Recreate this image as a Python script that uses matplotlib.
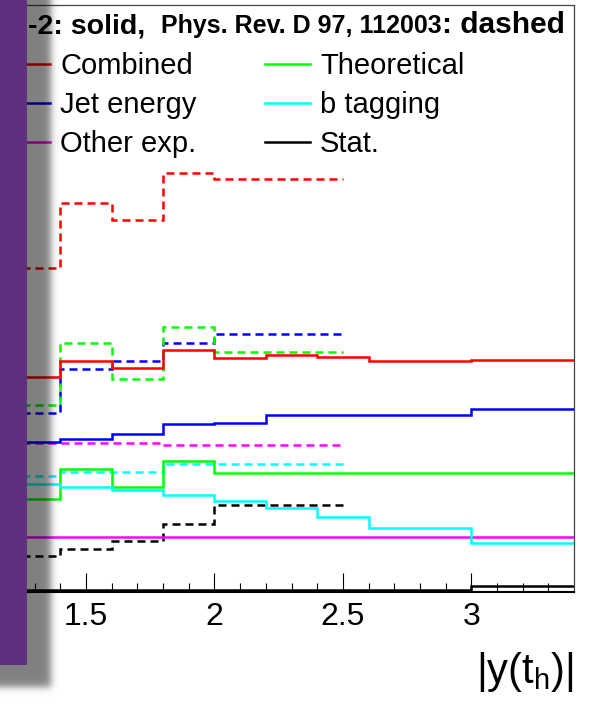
import numpy as np
import matplotlib.pyplot as plt
from matplotlib.lines import Line2D

plt.rcParams['font.family'] = ['Liberation Sans', 'DejaVu Sans']
plt.rcParams['mathtext.fontset'] = 'custom'
plt.rcParams['mathtext.rm'] = 'Liberation Sans'
plt.rcParams['mathtext.it'] = 'Liberation Sans:italic'

# bin edges in |y(t_h)|
edges_new = [1.2, 1.4, 1.6, 1.8, 2.0, 2.2, 2.4, 2.6, 3.0, 3.4]
edges_old = [1.2, 1.4, 1.6, 1.8, 2.0, 2.5]

# relative uncertainties (%), new result (solid)
comb_new = [5.51, 5.92, 5.74, 6.19, 5.98, 6.06, 6.01, 5.91, 5.94]
jet_new = [3.84, 3.92, 4.04, 4.30, 4.32, 4.53, 4.54, 4.54, 4.67]
other_new = [1.41, 1.41, 1.41, 1.41, 1.41, 1.41, 1.41, 1.41, 1.41]
theo_new = [2.38, 3.15, 2.69, 3.36, 3.05, 3.05, 3.05, 3.05, 3.05]
btag_new = [2.77, 2.70, 2.61, 2.49, 2.33, 2.15, 1.92, 1.64, 1.26]
stat_new = [0.07, 0.07, 0.07, 0.07, 0.07, 0.07, 0.07, 0.05, 0.16]

# Phys. Rev. D 97, 112003 (dashed)
comb_old = [8.29, 9.94, 9.52, 10.72, 10.56]
jet_old = [4.58, 5.70, 5.91, 6.37, 6.60]
other_old = [3.81, 3.81, 3.81, 3.76, 3.76]
theo_old = [4.78, 6.37, 5.45, 6.78, 6.14]
btag_old = [2.97, 3.07, 3.07, 3.28, 3.28]
stat_old = [0.93, 1.11, 1.31, 1.75, 2.23]

labels = ['Combined', 'Jet energy', 'Other exp.', 'Theoretical', 'b tagging', 'Stat.']
colors = ['#ff0000', '#0000ff', '#ff00ff', '#00ff00', '#00ffff', '#000000']

W, H = 600, 708
fig = plt.figure(figsize=(6, 7.08), dpi=100)

def fx(px):
    return px / W

def fy(py):
    return 1 - py / H

ax = fig.add_axes([fx(9), fy(592.3), fx(574) - fx(9), (592.3 - 5) / H])

new = [comb_new, jet_new, other_new, theo_new, btag_new, stat_new]
old = [comb_old, jet_old, other_old, theo_old, btag_old, stat_old]
dash = (0, (3.2, 2.0))
for vals, c in zip(old, colors):
    ax.stairs(vals, edges_old, baseline=None, color=c, lw=1.8, linestyle=dash)
for vals, c in zip(new, colors):
    ax.stairs(vals, edges_new, baseline=None, color=c, lw=1.8)

ax.set_xlim(1.2, 3.4)
ax.set_ylim(0, 15)
ax.set_xticks([1.5, 2.0, 2.5, 3.0])
ax.set_xticklabels(['1.5', '2', '2.5', '3'])
ax.set_xticks(np.arange(1.3, 3.4, 0.1), minor=True)
ax.set_yticks([])
ax.tick_params(axis='x', which='major', direction='in', length=13.5, width=0.8, labelsize=23, pad=7)
ax.tick_params(axis='x', which='minor', direction='in', length=6.5, width=0.8)
for s in ['top', 'right', 'left']:
    ax.spines[s].set_linewidth(0.9)
    ax.spines[s].set_color('#444444')
ax.spines['bottom'].set_linewidth(1.5)

ax.set_xlabel(r'|y(t$_{\mathrm{h}}$)|', fontsize=30, loc='right')
ax.xaxis.set_label_coords(1.0, -0.1544)
ax.xaxis.label.set_va('baseline')

# legend header
fig.text(fx(28), fy(33), '-2: solid,', fontsize=20.5, fontweight='bold', va='baseline')
fig.text(fx(161), fy(33), 'Phys. Rev. D 97, 112003', fontsize=18, fontweight='bold', va='baseline')
fig.text(fx(442), fy(33), ': dashed', fontsize=21.5, fontweight='bold', va='baseline')

# legend entries (two columns)
rows = [63, 102, 141]
for i, (lab, c) in enumerate(zip(labels, colors)):
    col, r = divmod(i, 3)
    x0, x1, xt = (5, 50, 60) if col == 0 else (265, 310, 320)
    fig.add_artist(Line2D([fx(x0), fx(x1)], [fy(rows[r] + 1), fy(rows[r] + 1)], color=c, lw=1.8,
                          transform=fig.transFigure))
    fig.text(fx(xt), fy(rows[r]), lab, fontsize=21, va='center_baseline')

# slide overlay: purple panel with drop shadow
yy, xx = np.mgrid[0:H, 0:W] + 0.5
sx = 1 / (1 + np.exp((xx - 51) / 2.2))
sy = 1 / (1 + np.exp((yy - 687) / 2.2))
rgba = np.zeros((H, W, 4))
rgba[..., 3] = 0.5 * sx * sy
panel = (xx < 27) & (yy < 665)
rgba[panel, :3] = np.array([95, 48, 126]) / 255
rgba[panel, 3] = 1.0
fig.figimage(rgba, xo=0, yo=0, origin='upper', zorder=10)

fig.savefig('out.png', dpi=100)
